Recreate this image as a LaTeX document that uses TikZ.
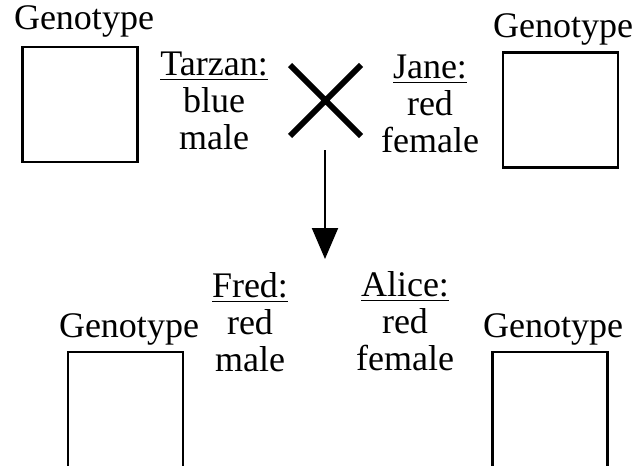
\documentclass[tikz,border=0pt]{standalone}
\usepackage{fontspec}
\setmainfont{Liberation Serif}
\usetikzlibrary{arrows.meta,shapes.misc}
\tikzset{
  gbox/.style={draw,line width=1.1pt,minimum width=57.5pt,minimum height=57.5pt,inner sep=0pt},
  lbl/.style={inner sep=0pt,font=\fontsize{18}{18.3}\selectfont},
  info/.style={lbl,align=center,anchor=base},
}
\begin{document}
\begin{tikzpicture}[x=0.5pt,y=-0.5pt]
\useasboundingbox (0,0) rectangle (638,466);
% top row
\node[gbox] (tlbox) at (80,104.5) {};
\node[lbl,anchor=base] (tlgen) at (84,30) {Genotype};
\node[info] (tarzan) at (214,149) {\underline{Tarzan:}\\blue\\male};
\node[gbox] (trbox) at (560.5,110) {};
\node[lbl,anchor=base] (trgen) at (563,37) {Genotype};
\node[info] (jane) at (430,152) {\underline{Jane:}\\red\\female};
\node[cross out,draw,line width=3pt,minimum width=32.5pt,minimum height=32.5pt,inner sep=0pt] (cross) at (325.5,100.5) {};
% arrow
\coordinate (astart) at (325,150);
\coordinate (aend) at (325,259);
\draw[line width=1pt,-{Triangle[length=15.5pt,width=13pt]}] (astart) -- (aend);
% bottom row
\node[gbox] (blbox) at (125.5,409.5) {};
\node[lbl,anchor=base] (blgen) at (129,337) {Genotype};
\node[info] (fred) at (250,371) {\underline{Fred:}\\red\\male};
\node[gbox] (brbox) at (550,409.5) {};
\node[lbl,anchor=base] (brgen) at (553,337) {Genotype};
\node[info] (alice) at (405,370) {\underline{Alice:}\\red\\female};
\end{tikzpicture}
\end{document}
